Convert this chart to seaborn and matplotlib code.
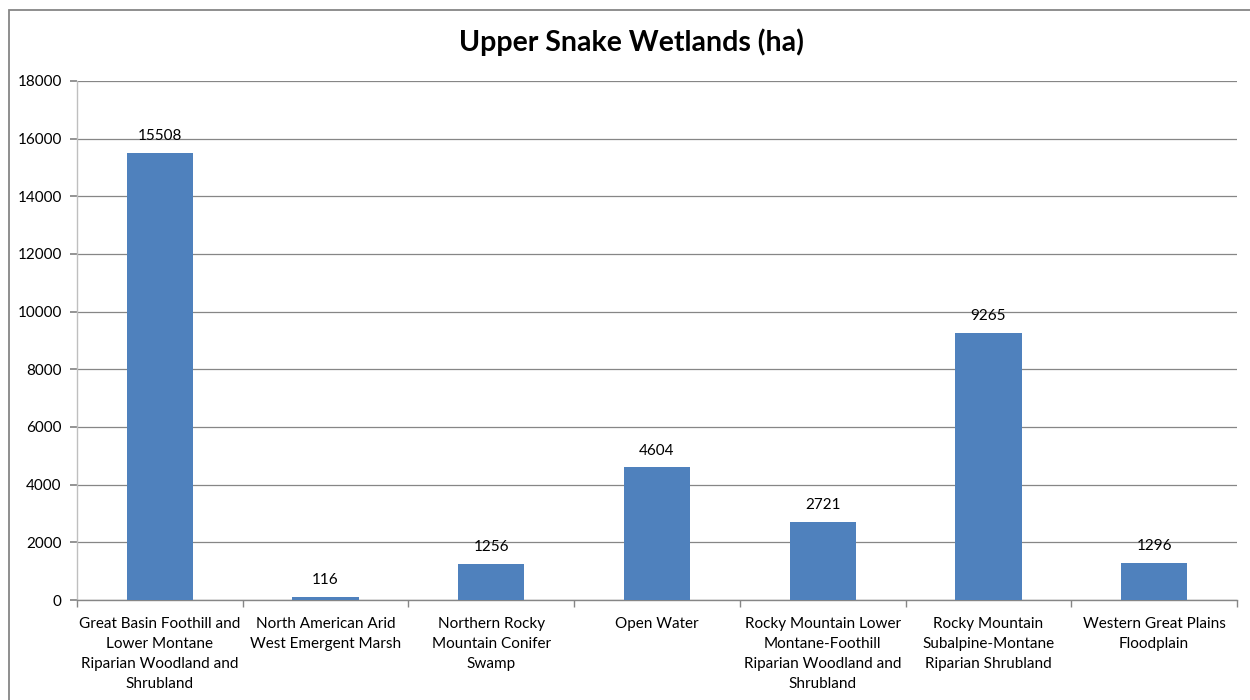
import matplotlib
matplotlib.use("Agg")
import matplotlib.pyplot as plt
import seaborn as sns
import pandas as pd
import numpy as np
from matplotlib.patches import Rectangle

categories = [
    "Great Basin Foothill and\nLower Montane\nRiparian Woodland and\nShrubland",
    "North American Arid\nWest Emergent Marsh",
    "Northern Rocky\nMountain Conifer\nSwamp",
    "Open Water",
    "Rocky Mountain Lower\nMontane-Foothill\nRiparian Woodland and\nShrubland",
    "Rocky Mountain\nSubalpine-Montane\nRiparian Shrubland",
    "Western Great Plains\nFloodplain",
]
values = [15508, 116, 1256, 4604, 2721, 9265, 1296]
yticks = [0, 2000, 4000, 6000, 8000, 10000, 12000, 14000, 16000, 18000]
title = "Upper Snake Wetlands (ha)"

sns.set_theme(style="white")
plt.rcParams["font.family"] = ["Lato", "DejaVu Sans"]

df = pd.DataFrame({"cat": categories, "val": values})

fig = plt.figure(figsize=(12.5, 7), dpi=100)
ax = fig.add_axes([77/1250, 1-600/700, (1237-77)/1250, (600-81)/700])

sns.barplot(data=df, x="cat", y="val", color="#4F81BD", width=0.4,
            saturation=1, ax=ax, zorder=3, linewidth=0)

ax.set_xlim(-0.5, len(categories) - 0.5)
ax.set_ylim(0, 18000)
ax.set_yticks(yticks)
ax.set_yticklabels([str(v) for v in yticks], fontsize=11, color="#000000")
ax.set_xlabel("")
ax.set_ylabel("")
ax.tick_params(axis="x", length=0, labelsize=11, pad=12, colors="#000000")
ax.tick_params(axis="y", length=5, color="#868686", pad=6, direction="out", left=True)
for lab in ax.get_xticklabels():
    lab.set_ha("center")
    lab.set_linespacing(1.56)
ax.set_xticks(np.arange(-0.5, len(categories), 1.0), minor=True)
ax.tick_params(axis="x", which="minor", length=5, color="#868686", bottom=True, direction="out")

ax.grid(axis="y", color="#868686", linewidth=0.9, zorder=0)
ax.set_axisbelow(True)
for s in ["top", "right"]:
    ax.spines[s].set_visible(False)
ax.spines["left"].set_color("#BFBFBF")
ax.spines["left"].set_linewidth(1.0)
ax.spines["bottom"].set_color("#868686")
ax.spines["bottom"].set_linewidth(1.0)

for i, v in enumerate(values):
    ax.annotate(str(v), (i, v), xytext=(0, 7), textcoords="offset points",
                ha="center", va="bottom", fontsize=11, color="#000000")

fig.text(631/1250, 1-42/700, title, ha="center", va="center",
         fontsize=20.5, fontweight="bold", color="#000000")

fig.patches.append(Rectangle((9/1250, -0.1), 1.2, 1 - 10/700 + 0.1,
                             transform=fig.transFigure, fill=False,
                             edgecolor="#868686", linewidth=1.3))

fig.savefig("out.png", dpi=100)
